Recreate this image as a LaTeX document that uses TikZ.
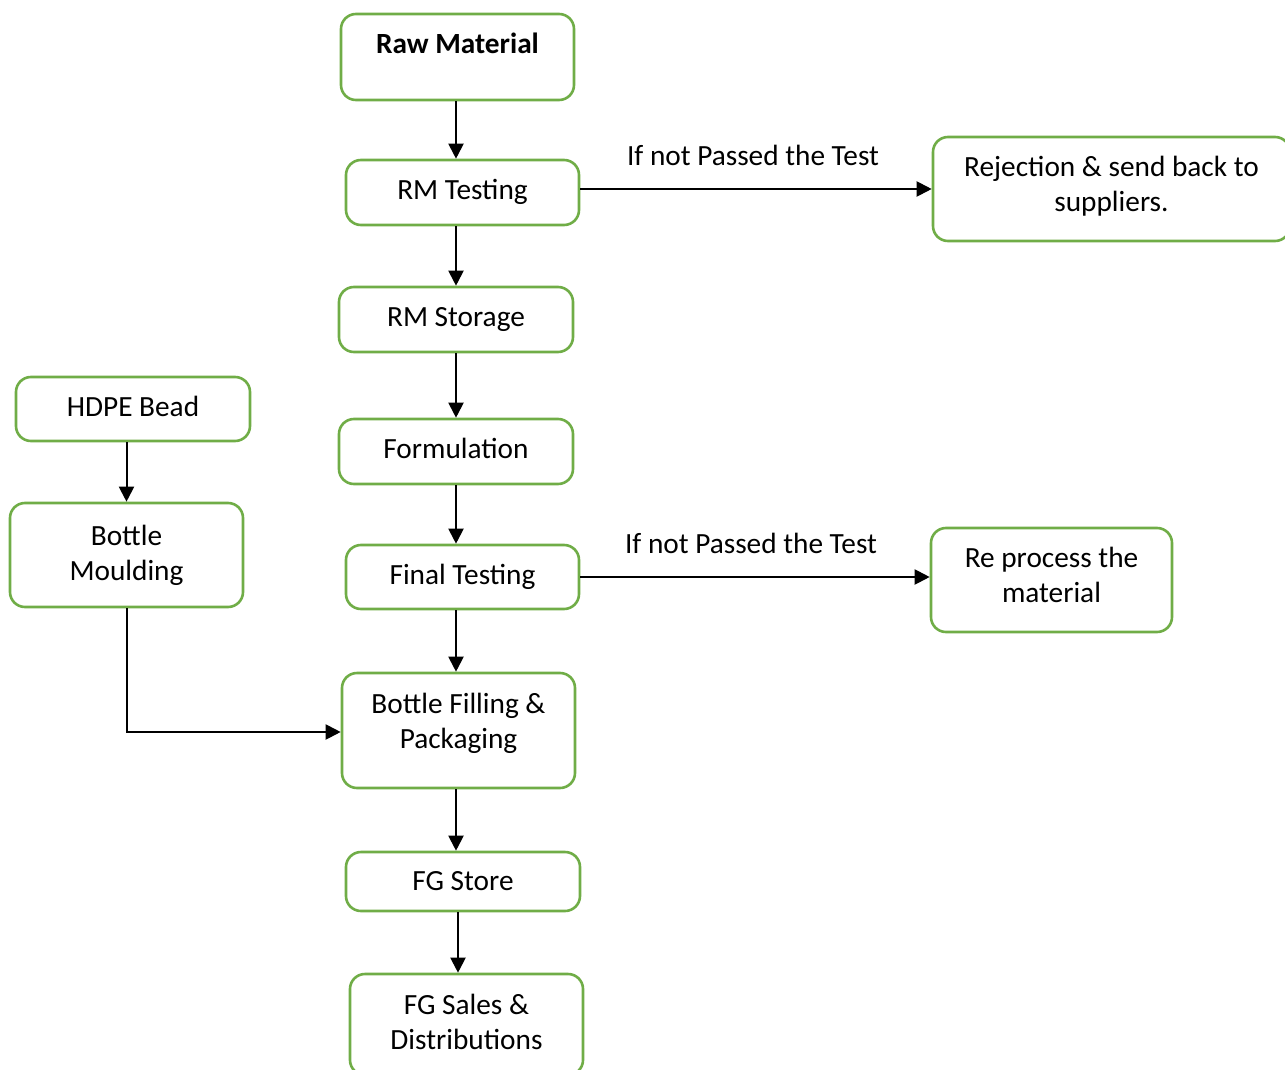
\documentclass[tikz,border=0pt]{standalone}
\usepackage{fontspec}
\setmainfont{Carlito}
\usetikzlibrary{arrows.meta}
\definecolor{boxgreen}{HTML}{70AD47}
\newcommand\liftup[2]{\raisebox{#1}[\height][\depth]{\begin{tabular}{@{}c@{}}#2\end{tabular}}}
\begin{document}
\begin{tikzpicture}[x=1pt,y=-1pt,
  box/.style={draw=boxgreen, line width=2.6pt, rounded corners=15pt, align=center,
    inner sep=0pt, font=\fontsize{29.3}{35}\selectfont},
  lbl/.style={inner sep=0pt, font=\fontsize{29.3}{35}\selectfont},
  arr/.style={line width=2pt, -{Triangle[length=15pt,width=15pt]}}]
\useasboundingbox (0,0) rectangle (1285,1070);
\clip (0,0) rectangle (1285,1070);

\node[box, minimum width=233pt, minimum height=86pt, text height=18.7pt, text depth=26pt,
  font=\fontsize{29.3}{35}\selectfont\bfseries] (raw) at (457.5,57) {Raw Material};
\node[box, minimum width=233pt, minimum height=65pt] (rmt) at (462.5,192.5) {\liftup{0pt}{RM Testing}};
\node[box, minimum width=234pt, minimum height=65pt] (rms) at (456,319.5) {RM Storage};
\node[box, minimum width=234pt, minimum height=65pt] (form) at (456,451.5) {\liftup{0pt}{Formulation}};
\node[box, minimum width=233pt, minimum height=64pt] (final) at (462.5,577) {Final Testing};
\node[box, minimum width=233pt, minimum height=115pt] (fill) at (458.5,730.5) {\liftup{7pt}{Bottle Filling \&\\Packaging}};
\node[box, minimum width=234pt, minimum height=59pt] (fgs) at (463,881.5) {FG Store};
\node[box, minimum width=233pt, minimum height=101pt] (sales) at (466.5,1024.5) {\liftup{0pt}{FG Sales \&\\Distributions}};
\node[box, minimum width=234pt, minimum height=64pt] (hdpe) at (133,409) {\liftup{0pt}{HDPE Bead}};
\node[box, minimum width=233pt, minimum height=104pt] (bm) at (126.5,555) {\liftup{-1pt}{Bottle\\Moulding}};
\node[box, minimum width=357pt, minimum height=104pt] (rej) at (1111.5,189) {\liftup{2pt}{Rejection \& send back to\\suppliers.}};
\node[box, minimum width=241pt, minimum height=104pt] (rep) at (1051.5,580) {\liftup{2pt}{Re process the\\material}};

\node[lbl] (l1) at (753,155) {If not Passed the Test};
\node[lbl] (l2) at (751,543) {If not Passed the Test};

\draw[arr] ([xshift=-1.5pt]raw.south) -- ([xshift=-1.5pt]raw.south |- rmt.north);
\draw[arr] (rmt.south -| rms.north) -- (rms.north);
\draw[arr] (rms.south) -- (form.north);
\draw[arr] (form.south) -- (form.south |- final.north);
\draw[arr] ([xshift=-2.5pt]fill.north |- final.south) -- ([xshift=-2.5pt]fill.north);
\draw[arr] ([xshift=-2.5pt]fill.south) -- ([xshift=-2.5pt]fill.south |- fgs.north);
\draw[arr] ([xshift=-5pt]fgs.south) -- ([xshift=-5pt]fgs.south |- sales.north);
\draw[arr] (hdpe.south -| bm.south) -- (bm.north);
\draw[arr] (bm.south) |- ([yshift=-1.5pt]fill.west);
\draw[arr] (rmt.east |- rej.west) -- (rej.west);
\draw[arr] (final.east) -- (final.east -| rep.west);
\end{tikzpicture}
\end{document}
